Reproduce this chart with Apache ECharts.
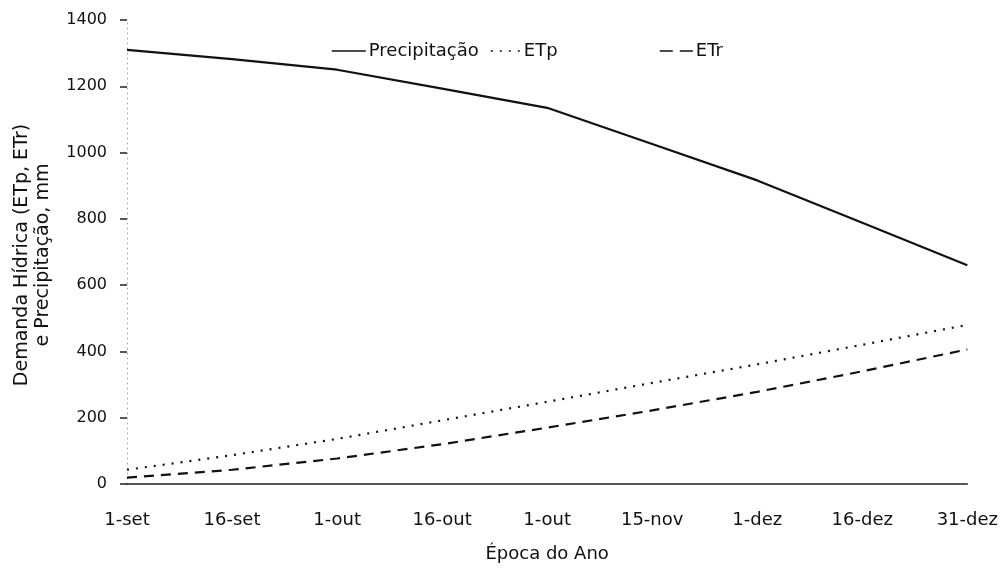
<!DOCTYPE html>
<html>
<head>
<meta charset="utf-8">
<script src="https://cdn.jsdelivr.net/npm/echarts@6/dist/echarts.min.js"></script>
<style>html,body{margin:0;padding:0;background:#fff;}#c{width:1001px;height:568px;}</style>
</head>
<body>
<div id="c"></div>
<script>
const categories = ['1-set','16-set','1-out','16-out','1-out','15-nov','1-dez','16-dez','31-dez'];
const precipitacao = [1310, 1282, 1250, 1193, 1135, 1026, 916, 788, 660];
const etp = [43, 87, 136, 192, 248, 305, 361, 420, 480];
const etr = [19, 43, 77, 120, 170, 222, 278, 340, 406];
const yTicks = {min: 0, max: 1400, interval: 200};
const yTitle = ['Demanda Hídrica (ETp, ETr)', 'e Precipitação, mm'];
const xTitle = 'Época do Ano';

const font = 'DejaVu Sans, Verdana, sans-serif';
const chart = echarts.init(document.getElementById('c'));
function legendFor(name, left, width, lineType) {
  return {
    left: left, top: 42, itemWidth: width, itemHeight: 14, itemGap: 0, padding: 0,
    data: [name],
    itemStyle: {opacity: 0},
    lineStyle: {type: lineType, width: 1.6, color: '#111'},
    textStyle: {fontFamily: font, fontSize: 18, color: '#111', padding: [0, 0, 0, -2]}
  };
}
chart.setOption({
  animation: false,
  backgroundColor: '#fff',
  grid: {left: 127, right: 33, top: 20, bottom: 79},
  legend: [
    legendFor('Precipitação', 331, 34, 'solid'),
    legendFor('ETp', 490, 30, [2, 7]),
    legendFor('ETr', 659, 33, [13, 7])
  ],
  graphic: [
    {type: 'text', x: 22, y: 255, rotation: Math.PI / 2,
     style: {text: yTitle[0], font: '19px ' + font, fill: '#111', align: 'center', verticalAlign: 'middle'}},
    {type: 'text', x: 43, y: 255, rotation: Math.PI / 2,
     style: {text: yTitle[1], font: '19px ' + font, fill: '#111', align: 'center', verticalAlign: 'middle'}}
  ],
  xAxis: {
    type: 'category', data: categories, boundaryGap: false,
    name: xTitle, nameLocation: 'middle', nameGap: 70,
    nameTextStyle: {fontFamily: font, fontSize: 18, color: '#111', verticalAlign: 'middle'},
    axisLine: {lineStyle: {color: '#222', width: 1.5}},
    axisTick: {show: false},
    axisLabel: {fontFamily: font, fontSize: 18, color: '#111', margin: 27, interval: 0}
  },
  yAxis: {
    type: 'value', min: yTicks.min, max: yTicks.max, interval: yTicks.interval,
    axisLine: {show: true, lineStyle: {color: '#aaa', type: [1, 4], width: 1}},
    axisTick: {show: true, length: 7, lineStyle: {color: '#222', width: 1.5}},
    axisLabel: {fontFamily: font, fontSize: 16, color: '#111', margin: 20,
                formatter: function (v) { return String(v); }},
    splitLine: {show: false}
  },
  series: [
    {name: 'Precipitação', type: 'line', data: precipitacao, symbol: 'none',
     lineStyle: {color: '#111', width: 2.2, type: 'solid'}, itemStyle: {color: '#111'}},
    {name: 'ETp', type: 'line', data: etp, symbol: 'none',
     lineStyle: {color: '#111', width: 2.2, type: [2, 7]}, itemStyle: {color: '#111'}},
    {name: 'ETr', type: 'line', data: etr, symbol: 'none',
     lineStyle: {color: '#111', width: 2.2, type: [10, 7]}, itemStyle: {color: '#111'}}
  ]
});
</script>
</body>
</html>
